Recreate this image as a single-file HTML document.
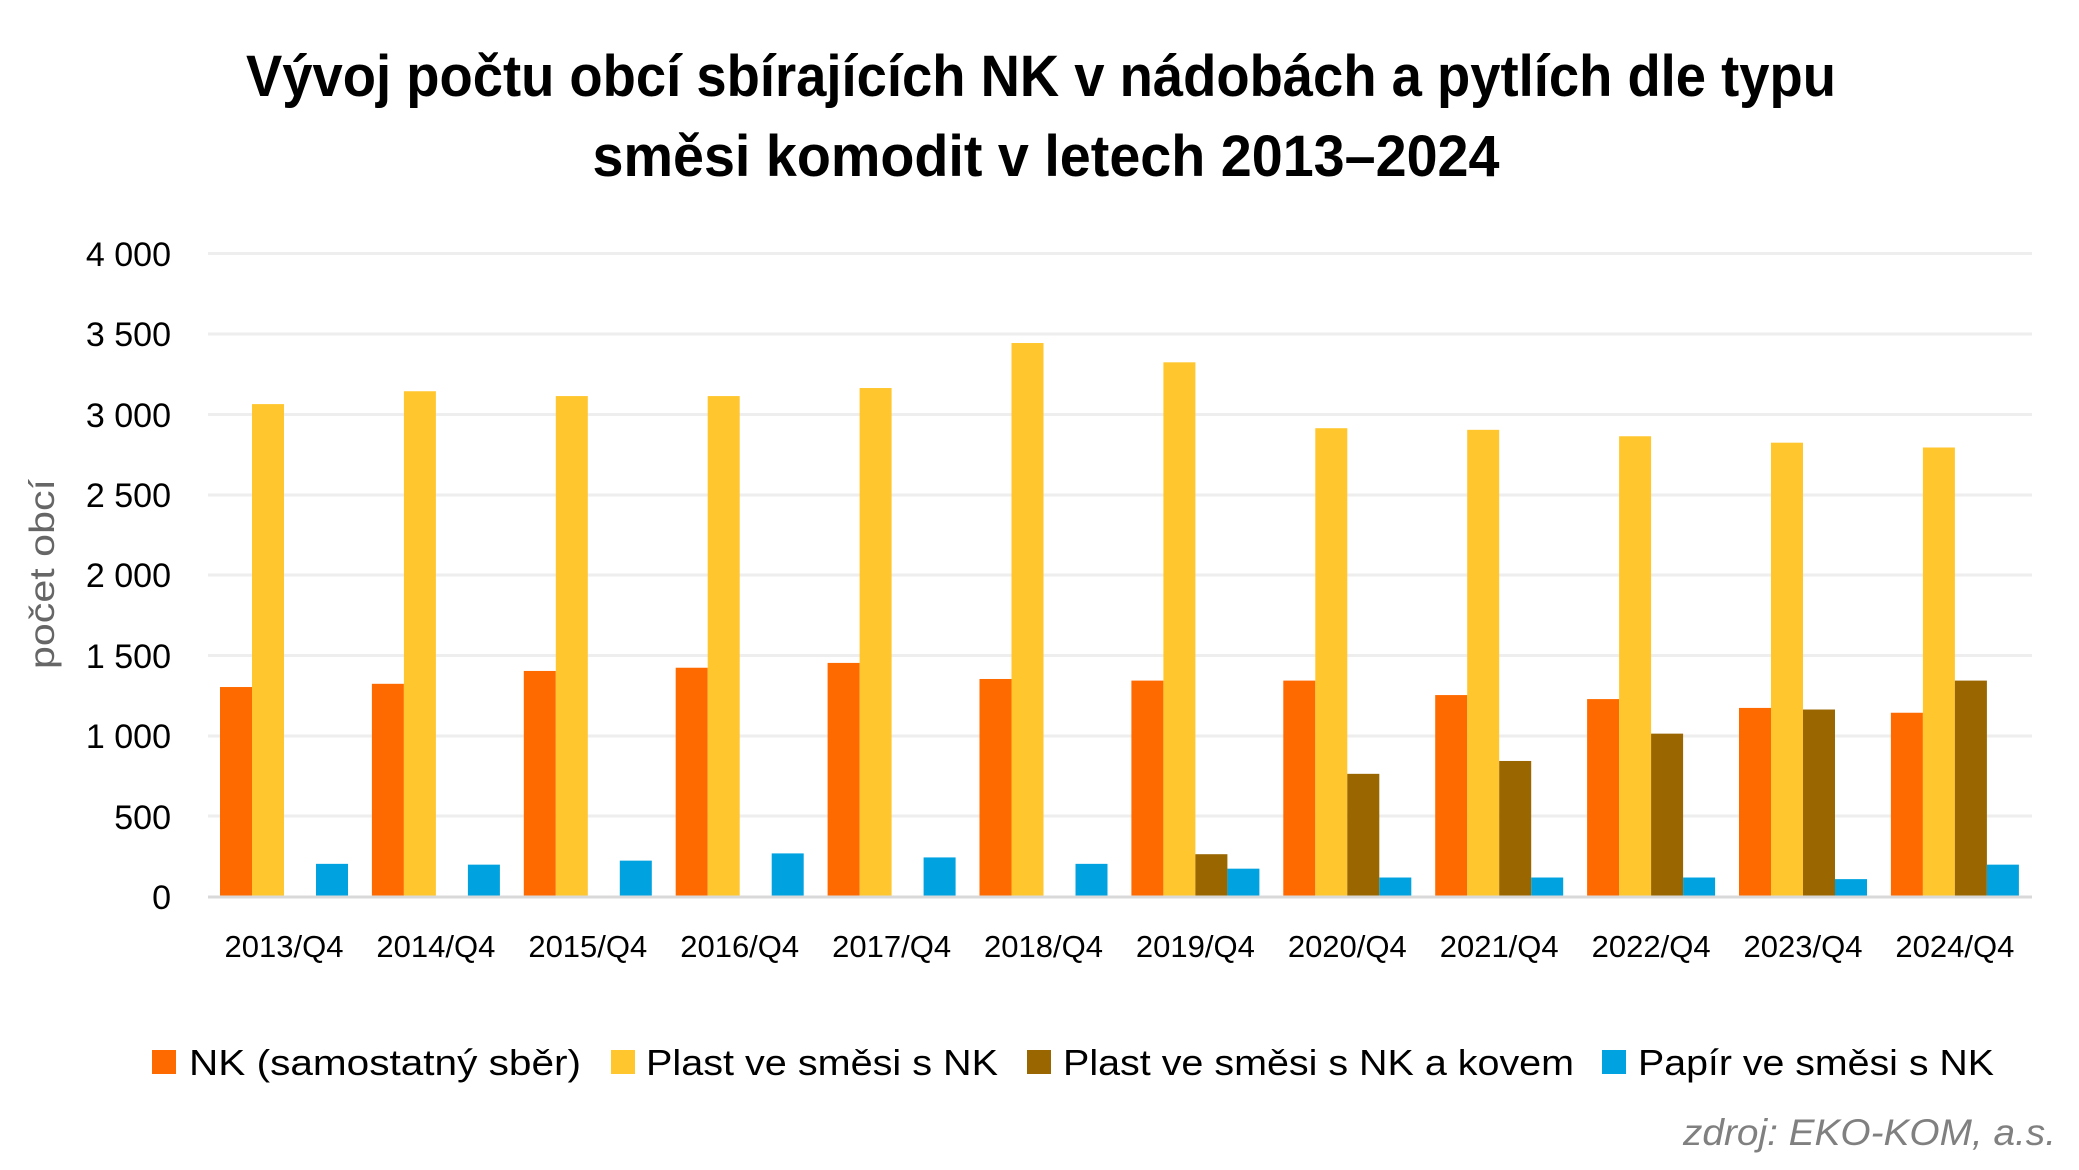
<!DOCTYPE html>
<html><head><meta charset="utf-8"><style>
html,body{margin:0;padding:0;background:#fff;}
svg{display:block;}
text{font-family:"Liberation Sans",sans-serif;}
</style></head><body>
<svg width="2079" height="1170" viewBox="0 0 2079 1170" xmlns="http://www.w3.org/2000/svg">
<text x="1041" y="96" text-anchor="middle" font-size="58" font-weight="bold" textLength="1590" lengthAdjust="spacingAndGlyphs">Vývoj počtu obcí sbírajících NK v nádobách a pytlích dle typu</text>
<text x="1046" y="176" text-anchor="middle" font-size="58" font-weight="bold" textLength="907" lengthAdjust="spacingAndGlyphs">směsi komodit v letech 2013–2024</text>
<g stroke="#eeeeee" stroke-width="3">
<line x1="208" x2="2032" y1="253.5" y2="253.5"/>
<line x1="208" x2="2032" y1="334" y2="334"/>
<line x1="208" x2="2032" y1="414.5" y2="414.5"/>
<line x1="208" x2="2032" y1="495" y2="495"/>
<line x1="208" x2="2032" y1="575" y2="575"/>
<line x1="208" x2="2032" y1="655.5" y2="655.5"/>
<line x1="208" x2="2032" y1="736" y2="736"/>
<line x1="208" x2="2032" y1="816" y2="816"/>
</g>
<g font-size="34" text-anchor="end" fill="#000">
<text x="171" y="266">4 000</text>
<text x="171" y="346">3 500</text>
<text x="171" y="427">3 000</text>
<text x="171" y="507">2 500</text>
<text x="171" y="587">2 000</text>
<text x="171" y="668">1 500</text>
<text x="171" y="748">1 000</text>
<text x="171" y="829">500</text>
<text x="171" y="909">0</text>
</g>
<text transform="translate(54,574) rotate(-90)" text-anchor="middle" font-size="35" fill="#666" textLength="190" lengthAdjust="spacingAndGlyphs">počet obcí</text>
<g id="bars"></g>
<line x1="208" x2="2032" y1="897" y2="897" stroke="#d9d9d9" stroke-width="3"/>
<g id="xl" font-size="31" text-anchor="middle"></g>
<rect x="152" y="1050" width="24" height="24" fill="#ff6a00"/>
<text x="189" y="1075" font-size="36" textLength="392" lengthAdjust="spacingAndGlyphs">NK (samostatný sběr)</text>
<rect x="611" y="1050" width="24" height="24" fill="#ffc62d"/>
<text x="646" y="1075" font-size="36" textLength="352" lengthAdjust="spacingAndGlyphs">Plast ve směsi s NK</text>
<rect x="1027" y="1050" width="24" height="24" fill="#996600"/>
<text x="1063" y="1075" font-size="36" textLength="511" lengthAdjust="spacingAndGlyphs">Plast ve směsi s NK a kovem</text>
<rect x="1602" y="1050" width="24" height="24" fill="#00a3e0"/>
<text x="1638" y="1075" font-size="36" textLength="356" lengthAdjust="spacingAndGlyphs">Papír ve směsi s NK</text>
<text x="1683" y="1145" font-size="37" font-style="italic" fill="#808080" textLength="373" lengthAdjust="spacingAndGlyphs">zdroj: EKO-KOM, a.s.</text>
<script>
var o=[1300,1320,1400,1420,1450,1350,1340,1340,1250,1225,1170,1140];
var y=[3060,3140,3110,3110,3160,3440,3320,2910,2900,2860,2820,2790];
var b=[0,0,0,0,0,0,260,760,840,1010,1160,1340];
var p=[200,195,220,265,240,200,170,115,115,115,105,195];
var cols=["#ff6a00","#ffc62d","#996600","#00a3e0"];
var ns="http://www.w3.org/2000/svg";
var g=document.getElementById("bars"),xl=document.getElementById("xl");
var s=643/4000, base=896, step=151.9;
for(var i=0;i<12;i++){
 var x0=220+i*step;
 [o[i],y[i],b[i],p[i]].forEach(function(v,k){
  if(!v)return;
  var r=document.createElementNS(ns,"rect");
  r.setAttribute("x",x0+k*32);r.setAttribute("width",32);
  r.setAttribute("y",base-v*s);r.setAttribute("height",v*s);
  r.setAttribute("fill",cols[k]);g.appendChild(r);
 });
 var t=document.createElementNS(ns,"text");
 t.setAttribute("x",x0+64);t.setAttribute("y",957);
 t.textContent=(2013+i)+"/Q4";xl.appendChild(t);
}
</script>
</svg>
</body></html>
